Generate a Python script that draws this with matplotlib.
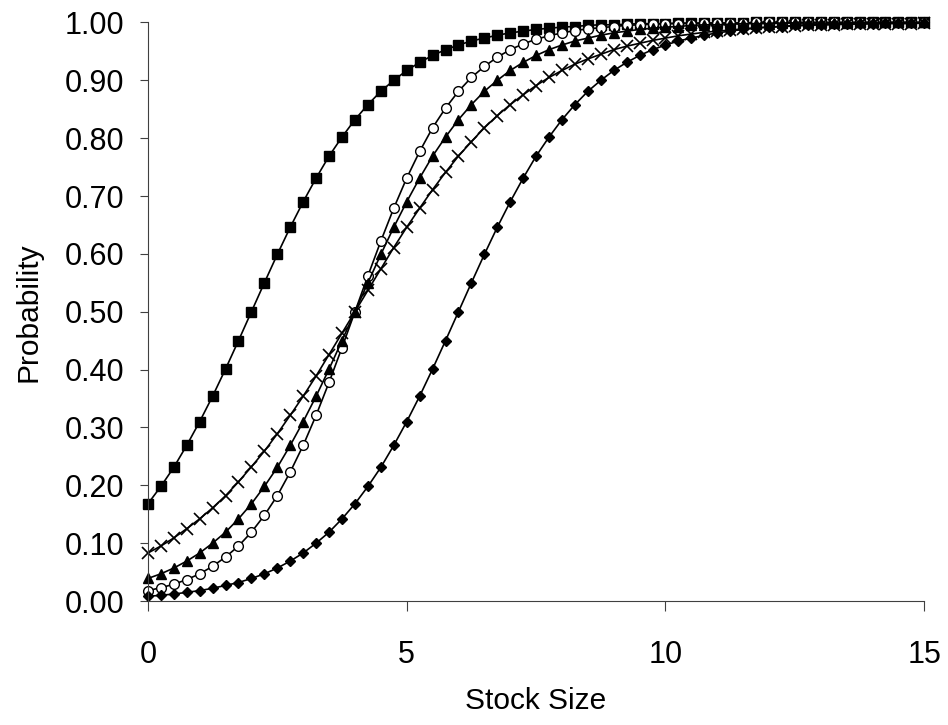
import matplotlib
matplotlib.use("Agg")
import matplotlib.pyplot as plt

plt.rcParams['font.family'] = ['Liberation Sans', 'DejaVu Sans']

# stock size, step 0.25 from 0 to 15
stock = [i * 0.25 for i in range(61)]

squares = [0.168, 0.198, 0.231, 0.269, 0.310, 0.354, 0.401, 0.450, 0.500, 0.550,
           0.599, 0.646, 0.690, 0.731, 0.769, 0.802, 0.832, 0.858, 0.881, 0.900,
           0.917, 0.931, 0.943, 0.953, 0.961, 0.968, 0.973, 0.978, 0.982, 0.985,
           0.988, 0.990, 0.992, 0.993, 0.995, 0.996, 0.996, 0.997, 0.998, 0.998,
           0.998, 0.999, 0.999, 0.999, 0.999, 0.999, 0.999, 1.000, 1.000, 1.000,
           1.000, 1.000, 1.000, 1.000, 1.000, 1.000, 1.000, 1.000, 1.000, 1.000,
           1.000]

circles = [0.018, 0.023, 0.029, 0.037, 0.047, 0.060, 0.076, 0.095, 0.119, 0.148,
           0.182, 0.223, 0.269, 0.321, 0.378, 0.438, 0.500, 0.562, 0.622, 0.679,
           0.731, 0.777, 0.818, 0.852, 0.881, 0.905, 0.924, 0.940, 0.953, 0.963,
           0.971, 0.977, 0.982, 0.986, 0.989, 0.991, 0.993, 0.995, 0.996, 0.997,
           0.998, 0.998, 0.998, 0.999, 0.999, 0.999, 0.999, 1.000, 1.000, 1.000,
           1.000, 1.000, 1.000, 1.000, 1.000, 1.000, 1.000, 1.000, 1.000, 1.000,
           1.000]

triangles = [0.039, 0.047, 0.057, 0.069, 0.083, 0.100, 0.119, 0.142, 0.168, 0.198,
             0.231, 0.269, 0.310, 0.354, 0.401, 0.450, 0.500, 0.550, 0.599, 0.646,
             0.690, 0.731, 0.769, 0.802, 0.832, 0.858, 0.881, 0.900, 0.917, 0.931,
             0.943, 0.953, 0.961, 0.968, 0.973, 0.978, 0.982, 0.985, 0.988, 0.990,
             0.992, 0.993, 0.995, 0.996, 0.996, 0.997, 0.998, 0.998, 0.998, 0.999,
             0.999, 0.999, 0.999, 0.999, 0.999, 1.000, 1.000, 1.000, 1.000, 1.000,
             1.000]

crosses = [0.083, 0.095, 0.109, 0.125, 0.142, 0.161, 0.182, 0.206, 0.232, 0.259,
           0.289, 0.321, 0.354, 0.389, 0.426, 0.463, 0.500, 0.537, 0.574, 0.611,
           0.646, 0.679, 0.711, 0.741, 0.769, 0.794, 0.818, 0.839, 0.858, 0.875,
           0.891, 0.905, 0.917, 0.928, 0.937, 0.945, 0.953, 0.959, 0.964, 0.969,
           0.973, 0.977, 0.980, 0.983, 0.985, 0.987, 0.989, 0.991, 0.992, 0.993,
           0.994, 0.995, 0.996, 0.996, 0.997, 0.997, 0.998, 0.998, 0.998, 0.998,
           0.999]

diamonds = [0.008, 0.010, 0.012, 0.015, 0.018, 0.022, 0.027, 0.032, 0.039, 0.047,
            0.057, 0.069, 0.083, 0.100, 0.119, 0.142, 0.168, 0.198, 0.231, 0.269,
            0.310, 0.354, 0.401, 0.450, 0.500, 0.550, 0.599, 0.646, 0.690, 0.731,
            0.769, 0.802, 0.832, 0.858, 0.881, 0.900, 0.917, 0.931, 0.943, 0.953,
            0.961, 0.968, 0.973, 0.978, 0.982, 0.985, 0.988, 0.990, 0.992, 0.993,
            0.995, 0.996, 0.996, 0.997, 0.998, 0.998, 0.998, 0.999, 0.999, 0.999,
            0.999]

fig = plt.figure(figsize=(9.48, 7.25), dpi=100)
ax = fig.add_axes([0.156, 0.171, 0.819, 0.798])

line_kw = dict(color='black', lw=1.2, clip_on=False)
ax.plot(stock, squares, marker='s', ms=6.5, mfc='black', mec='black', **line_kw)
ax.plot(stock, circles, marker='o', ms=7, mfc='white', mec='black', mew=1.0, **line_kw)
ax.plot(stock, triangles, marker='^', ms=7.5, mfc='black', mec='black', **line_kw)
ax.plot(stock, crosses, marker='x', ms=9, mec='black', mew=1.2, **line_kw)
ax.plot(stock, diamonds, marker='D', ms=5.5, mfc='black', mec='black', **line_kw)

ax.set_xlim(0, 15)
ax.set_ylim(0, 1.0)
ax.set_xticks([0, 5, 10, 15])
ax.set_yticks([i / 10 for i in range(11)])
ax.set_yticklabels([f"{i / 10:.2f}" for i in range(11)])

ax.spines['top'].set_visible(False)
ax.spines['right'].set_visible(False)
ax.spines['left'].set_color('#404040')
ax.spines['bottom'].set_color('#404040')

ax.tick_params(axis='x', direction='out', length=7, pad=21, labelsize=22, color='#404040')
ax.tick_params(axis='y', direction='out', length=6, pad=11, labelsize=22, color='#404040')

ax.set_xlabel("Stock Size", fontsize=21.5, labelpad=12)
ax.set_ylabel("Probability", fontsize=21.5, labelpad=16)

fig.savefig("out.png", dpi=100)
